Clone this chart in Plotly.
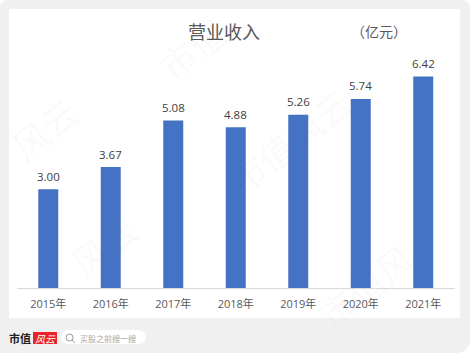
import plotly.graph_objects as go

categories = ["2015年", "2016年", "2017年", "2018年", "2019年", "2020年", "2021年"]
revenue = [3.00, 3.67, 5.08, 4.88, 5.26, 5.74, 6.42]
value_labels = ["3.00", "3.67", "5.08", "4.88", "5.26", "5.74", "6.42"]
title_text = "营业收入"
unit_text = "（亿元）"
brand_a = "市值"
brand_b = "风云"
search_text = "买股之前搜一搜"
watermarks = [("市值", 192, 48), ("风云", 44, 128), ("风云", 103, 245),
              ("市值风云", 290, 140), ("市值风", 365, 285)]

W, H = 470, 353
FONT = "Noto Sans CJK SC"
def px(x): return x / W
def py(y): return 1 - y / H

fig = go.Figure(go.Bar(
    x=categories, y=revenue, width=0.32, marker_color="#4472c4", marker_line_width=0,
    hoverinfo="skip"))

shapes = [
    dict(type="path", xref="paper", yref="paper", layer="below", line_width=0, fillcolor="#f0f0f0",
         path=f"M {px(0)} {py(8)} Q {px(0)} {py(0)} {px(8)} {py(0)} L {px(462)} {py(0)} Q {px(470)} {py(0)} {px(470)} {py(8)} "
              f"L {px(470)} {py(338)} Q {px(470)} {py(353)} {px(455)} {py(353)} L {px(0)} {py(353)} Z"),
    dict(type="rect", xref="paper", yref="paper", layer="below", line_width=0, fillcolor="#ffffff",
         x0=px(9), x1=px(460), y0=py(318), y1=py(9)),
    dict(type="rect", xref="paper", yref="paper", layer="below", line_width=0, fillcolor="#ffffff",
         x0=px(68), x1=px(139), y0=py(344), y1=py(330)),
    dict(type="circle", xref="paper", yref="paper", layer="below", line_width=0, fillcolor="#ffffff",
         x0=px(61), x1=px(75), y0=py(344), y1=py(330)),
    dict(type="circle", xref="paper", yref="paper", layer="below", line_width=0, fillcolor="#ffffff",
         x0=px(132), x1=px(146), y0=py(344), y1=py(330)),
    dict(type="rect", xref="paper", yref="paper", layer="below", line_width=0, fillcolor="#e8232a",
         x0=px(33), x1=px(57), y0=py(344), y1=py(332)),
    dict(type="circle", xref="paper", yref="paper", line=dict(color="#9a9a9a", width=1),
         fillcolor="rgba(0,0,0,0)", x0=px(66), x1=px(73), y0=py(341), y1=py(334)),
    dict(type="line", xref="paper", yref="paper", line=dict(color="#9a9a9a", width=1),
         x0=px(72), x1=px(75), y0=py(340), y1=py(343)),
]

def note(text, x, y, **kw):
    return dict(text=text, xref="paper", yref="paper", x=px(x), y=py(y), showarrow=False,
                xanchor="center", yanchor="middle", **kw)

ann = []
for t, x, y in watermarks:
    ann.append(note(t, x, y, textangle=-38, font=dict(family=FONT, size=36, color="rgba(120,120,120,0.05)")))
ann += [
    note(title_text, 224, 31, font=dict(family=FONT, size=18, color="#595959")),
    note(unit_text, 379, 31, font=dict(family=FONT, size=14, color="#595959")),
    note(brand_a, 20, 338, font=dict(family=FONT, size=11, color="#222222", weight="bold")),
    note(brand_b, 45, 338, font=dict(family=FONT, size=10, color="#ffffff", style="italic")),
    note(search_text, 108, 338, font=dict(family=FONT, size=8, color="#a8a8a8")),
]
for c, v, lab in zip(categories, revenue, value_labels):
    ann.append(dict(text=lab, xref="x", yref="y", x=c, y=v, yshift=13, showarrow=False,
                    xanchor="center", yanchor="middle",
                    font=dict(family="Open Sans, " + FONT, size=11.5, color="#404040")))

fig.update_layout(
    width=W, height=H, margin=dict(l=0, r=0, t=0, b=0), autosize=False,
    paper_bgcolor="#ffffff", plot_bgcolor="rgba(0,0,0,0)", showlegend=False,
    shapes=shapes, annotations=ann,
    xaxis=dict(domain=[px(17), px(454.5)], type="category", showgrid=False, ticks="",
               range=[-0.5, 6.5], showline=True, linecolor="#d9d9d9", linewidth=1, ticklabelstandoff=6,
               tickfont=dict(family="Open Sans, " + FONT, size=11, color="#595959")),
    yaxis=dict(domain=[py(288), py(60)], range=[0, 6.92], visible=False, showgrid=False, zeroline=False),
)
fig.write_html("out.html", config={"displayModeBar": False},
               post_script="document.body.style.margin='0';document.documentElement.style.overflow='hidden';")
